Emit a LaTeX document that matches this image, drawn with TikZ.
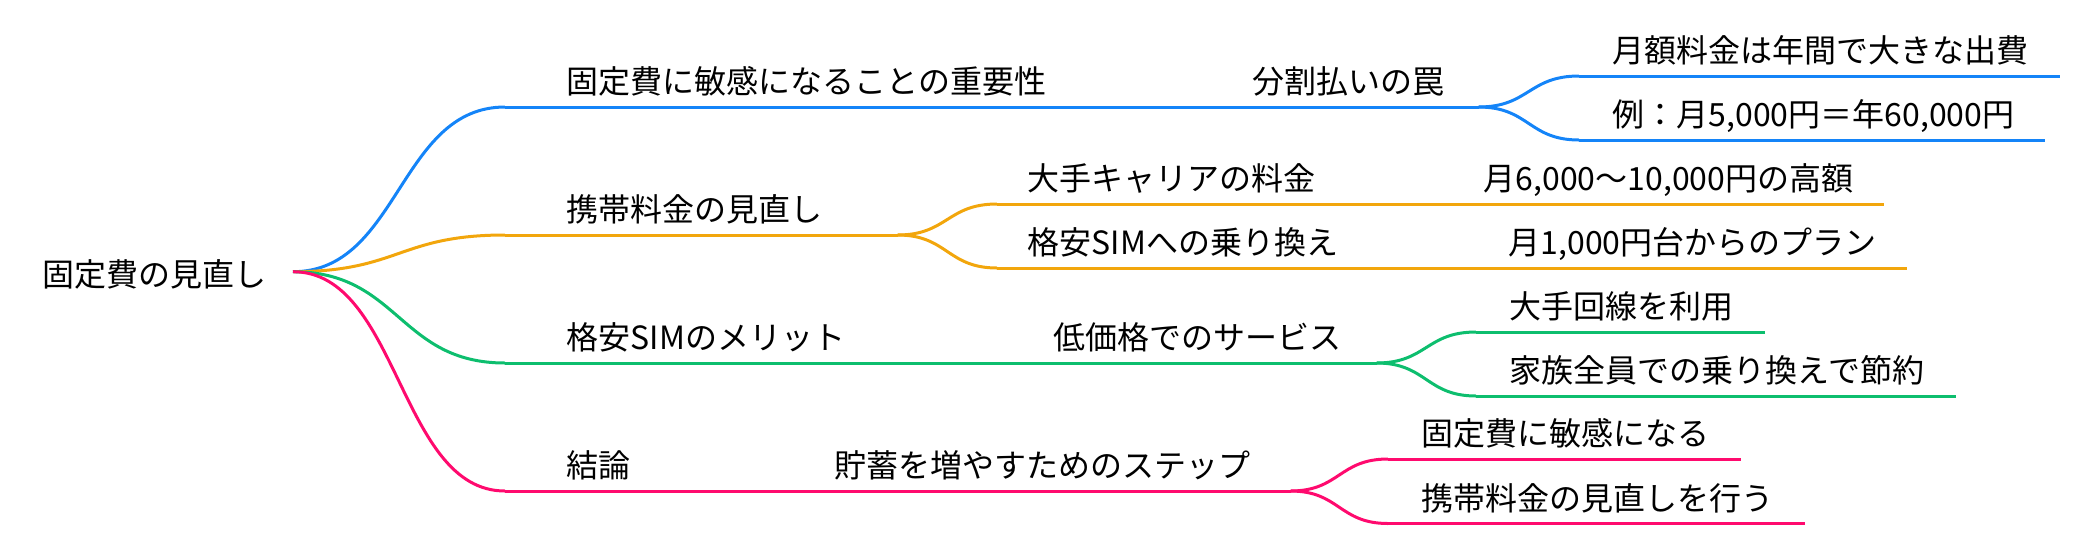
\documentclass[tikz,border=0pt]{standalone}
\usepackage{fontspec}
\setmainfont{Noto Sans CJK JP}
\definecolor{mmblue}{HTML}{1484F8}
\definecolor{mmorange}{HTML}{F2A60C}
\definecolor{mmgreen}{HTML}{0DBE6E}
\definecolor{mmpink}{HTML}{FF0A6E}
\begin{document}
\begin{tikzpicture}[x=0.75pt,y=-0.75pt,
  every node/.style={font=\fontsize{24pt}{28pt}\selectfont, text=black},
  link/.style={line width=2.25pt, line join=round},
  mm/.style={anchor=south west, inner sep=0pt, text height=20pt, text depth=9.75pt},
  leaf/.style={mm, execute at begin node={\hspace*{25.125pt}}, execute at end node={\hspace*{22.875pt}}},
  first/.style={mm, execute at begin node={\hspace*{46.125pt}}, execute at end node={\hspace*{22.875pt}}},
  firstwide/.style={mm, text width=#1, align=left, execute at begin node={\hspace*{46.125pt}}},
  mid/.style={mm, execute at begin node={\hspace*{22.875pt}}, execute at end node={\hspace*{22.875pt}}},
  midwide/.style={mm, text width=#1, align=left, execute at begin node={\hspace*{25.125pt}}},
]
\useasboundingbox (0,0) rectangle (2078,544);
% root
\node[anchor=east, inner sep=0pt, text height=25.5pt, text depth=3pt] (root) at (293,271.7) {固定費の見直し\hspace*{19.875pt}};
% level 1
\node[first] (B1) at (505,107) {固定費に敏感になることの重要性};
\node[firstwide=294pt] (O1) at (505,235) {携帯料金の見直し};
\node[first] (G1) at (505,363) {格安SIMのメリット};
\node[first] (P1) at (505,491) {結論};
% level 2
\node[midwide=194.25pt] (B2) at (1219,107) {分割払いの罠};
\node[mid] (O2a) at (997,204) {大手キャリアの料金};
\node[mid] (O2b) at (997,268) {格安SIMへの乗り換え};
\node[midwide=267pt] (G2) at (1020,363) {低価格でのサービス};
\node[midwide=366.75pt] (P2) at (801,491) {貯蓄を増やすためのステップ};
% level 3
\node[leaf] (B3a) at (1579,76) {月額料金は年間で大きな出費};
\node[leaf] (B3b) at (1579,140) {例：月5,000円＝年60,000円};
\node[leaf] (O3a) at (1450,204) {月6,000〜10,000円の高額};
\node[leaf] (O3b) at (1475,268) {月1,000円台からのプラン};
\node[leaf] (G3a) at (1476,332) {大手回線を利用};
\node[leaf] (G3b) at (1476,396) {家族全員での乗り換えで節約};
\node[leaf] (P3a) at (1388,459) {固定費に敏感になる};
\node[leaf] (P3b) at (1388,523.5) {携帯料金の見直しを行う};

% underlines
\foreach \n in {B1,B2,B3a,B3b} \draw[link,mmblue] (\n.south west) -- (\n.south east);
\foreach \n in {O1,O2a,O2b,O3a,O3b} \draw[link,mmorange] (\n.south west) -- (\n.south east);
\foreach \n in {G1,G2,G3a,G3b} \draw[link,mmgreen] (\n.south west) -- (\n.south east);
\foreach \n in {P1,P2,P3a,P3b} \draw[link,mmpink] (\n.south west) -- (\n.south east);

% root links
\draw[link,mmblue] (root.east) .. controls +(106,0) and +(-106,0) .. (B1.south west);
\draw[link,mmorange] (root.east) .. controls +(106,0) and +(-106,0) .. (O1.south west);
\draw[link,mmgreen] (root.east) .. controls +(106,0) and +(-106,0) .. (G1.south west);
\draw[link,mmpink] (root.east) .. controls +(106,0) and +(-106,0) .. (P1.south west);

% blue branch
\draw[link,mmblue] (B1.south east) -- (B2.south west);
\draw[link,mmblue] (B2.south east) .. controls +(50.5,0) and +(-50.5,0) .. (B3a.south west);
\draw[link,mmblue] (B2.south east) .. controls +(50.5,0) and +(-50.5,0) .. (B3b.south west);
% orange branch
\draw[link,mmorange] (O1.south east) .. controls +(50,0) and +(-50,0) .. (O2a.south west);
\draw[link,mmorange] (O1.south east) .. controls +(50,0) and +(-50,0) .. (O2b.south west);
\draw[link,mmorange] (O2a.south east) -- (O3a.south west);
\draw[link,mmorange] (O2b.south east) -- (O3b.south west);
% green branch
\draw[link,mmgreen] (G1.south east) -- (G2.south west);
\draw[link,mmgreen] (G2.south east) .. controls +(50,0) and +(-50,0) .. (G3a.south west);
\draw[link,mmgreen] (G2.south east) .. controls +(50,0) and +(-50,0) .. (G3b.south west);
% pink branch
\draw[link,mmpink] (P1.south east) -- (P2.south west);
\draw[link,mmpink] (P2.south east) .. controls +(49,0) and +(-49,0) .. (P3a.south west);
\draw[link,mmpink] (P2.south east) .. controls +(49,0) and +(-49,0) .. (P3b.south west);
\end{tikzpicture}
\end{document}
